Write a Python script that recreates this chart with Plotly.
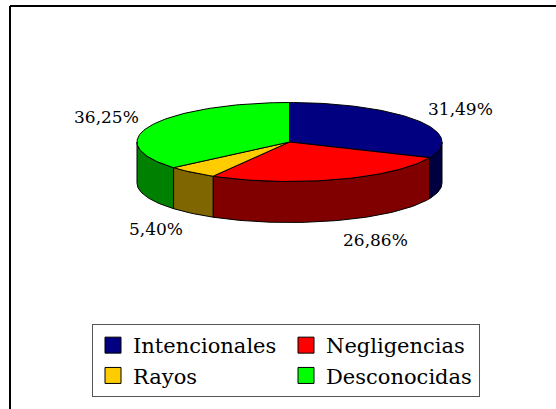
import math
import plotly.graph_objects as go

# ---- data ----
categories = ["Intencionales", "Negligencias", "Rayos", "Desconocidas"]
values = [31.49, 26.86, 5.40, 36.25]
top_colors = ["#000080", "#FF0000", "#FFCC00", "#00FF00"]
side_colors = ["#000040", "#800000", "#806600", "#008000"]

# ---- geometry (layout, in pixel units of the plot area) ----
W, H = 556, 409
cx, cy = 289.5, 142.0
rx, ry = 152.5, 39.5
depth = 41.0
lab_rx, lab_ry = 163.0, 60.0
FONT = "DejaVu Serif"


def pt(theta_deg, dy=0.0, sx=rx, sy=ry):
    t = math.radians(theta_deg)
    return cx + sx * math.sin(t), cy - sy * math.cos(t) + dy


def arc(a0, a1, dy=0.0, n=None):
    if n is None:
        n = max(2, int(abs(a1 - a0) / 1.5) + 2)
    xs, ys = [], []
    for i in range(n):
        a = a0 + (a1 - a0) * i / (n - 1)
        x, y = pt(a, dy)
        xs.append(x)
        ys.append(y)
    return xs, ys


total = sum(values)
bounds = []
acc = 0.0
for v in values:
    a0 = acc / total * 360.0
    acc += v
    a1 = acc / total * 360.0
    bounds.append((a0, a1))

fig = go.Figure()

# side faces (only the front half is visible: 90..270 deg)
for (a0, a1), sc in zip(bounds, side_colors):
    s0, s1 = max(a0, 90.0), min(a1, 270.0)
    if s1 <= s0:
        continue
    tx, ty = arc(s0, s1)
    bx, by = arc(s1, s0, dy=depth)
    fig.add_trace(go.Scatter(
        x=tx + bx + [tx[0]], y=ty + by + [ty[0]],
        mode="lines", fill="toself", fillcolor=sc,
        line=dict(color="black", width=1),
        hoverinfo="skip", showlegend=False))

# top faces
for (a0, a1), tc in zip(bounds, top_colors):
    ax, ay = arc(a0, a1)
    fig.add_trace(go.Scatter(
        x=[cx] + ax + [cx], y=[cy] + ay + [cy],
        mode="lines", fill="toself", fillcolor=tc,
        line=dict(color="black", width=1),
        hoverinfo="skip", showlegend=False))

# percentage labels
for (a0, a1), v in zip(bounds, values):
    mid = (a0 + a1) / 2.0
    t = math.radians(mid)
    x = cx + lab_rx * math.sin(t)
    y = cy - lab_ry * math.cos(t) + (depth if math.cos(t) < 0 else 0.0)
    txt = f"{v / total * 100:.2f}%".replace(".", ",")
    fig.add_annotation(
        x=x, y=y, text=txt, showarrow=False,
        xanchor="left" if math.sin(t) > 0 else "right", yanchor="middle",
        font=dict(family=FONT, size=17, color="black"))

# legend entries
for name, tc in zip(categories, top_colors):
    fig.add_trace(go.Scatter(
        x=[None], y=[None], mode="markers", name=name,
        marker=dict(symbol="square", size=16, color=tc,
                    line=dict(color="black", width=1))))

# chart area border (top and left edges visible)
fig.add_shape(type="line", xref="x", yref="y", x0=10, y0=6, x1=W + 10, y1=6,
              line=dict(color="black", width=2))
fig.add_shape(type="line", xref="x", yref="y", x0=10, y0=6, x1=10, y1=H + 10,
              line=dict(color="black", width=2))

fig.update_layout(
    width=W, height=H,
    margin=dict(l=0, r=0, t=0, b=0),
    paper_bgcolor="white", plot_bgcolor="white",
    font=dict(family=FONT),
    xaxis=dict(range=[0, W], visible=False, fixedrange=True),
    yaxis=dict(range=[H, 0], visible=False, fixedrange=True),
    showlegend=True,
    legend=dict(
        orientation="h",
        x=92 / W, y=1 - 324 / H, xanchor="left", yanchor="top",
        entrywidth=148, entrywidthmode="pixels",
        bordercolor="#555555", borderwidth=1, bgcolor="white",
        font=dict(family=FONT, size=21, color="black"),
        itemsizing="trace", tracegroupgap=0,
    ),
)

fig.write_html("out.html")
